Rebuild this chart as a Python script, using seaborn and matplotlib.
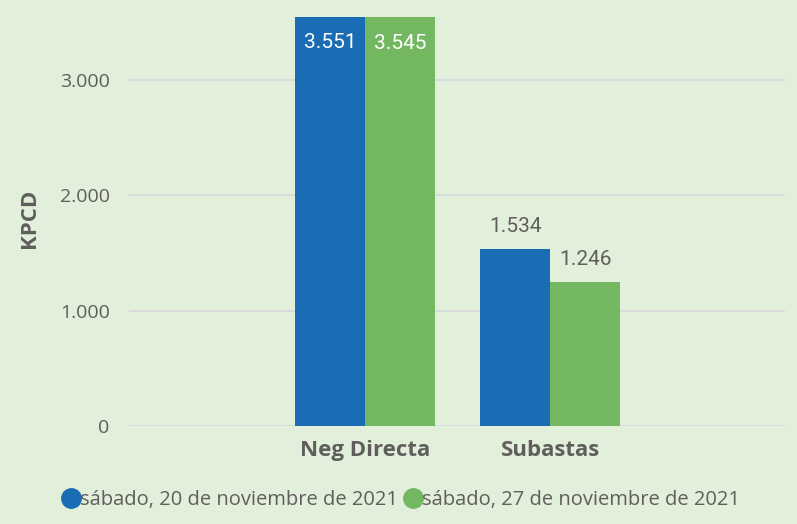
import pandas as pd
import numpy as np
import seaborn as sns
import matplotlib.pyplot as plt
from matplotlib.lines import Line2D
plt.switch_backend('agg')

categories = ['Neg Directa', 'Subastas']
series_names = ['sábado, 20 de noviembre de 2021', 'sábado, 27 de noviembre de 2021']
values_20 = [3551, 1534]
values_27 = [3545, 1246]
y_ticks = [0, 1000, 2000, 3000]

BG = '#E2EFDA'
BLUE = '#1A6CB4'
GREEN = '#74B761'
TXT = '#605E5C'


def fmt(v):
    return '{:,.0f}'.format(v).replace(',', '.')


if __name__ == "__main__":
    df = pd.DataFrame({
        'cat': categories * 2,
        'serie': [series_names[0]] * 2 + [series_names[1]] * 2,
        'val': values_20 + values_27,
    })

    sns.set_style('white')
    plt.rcParams['font.family'] = ['Open Sans', 'DejaVu Sans']

    fig = plt.figure(figsize=(7.97, 5.24), dpi=100)
    fig.patch.set_facecolor(BG)
    ax = fig.add_axes([0.162, 0.187, 0.823, 0.792])
    ax.set_facecolor(BG)

    sns.barplot(data=df, x='cat', y='val', hue='serie', order=categories,
                hue_order=series_names, palette=[BLUE, GREEN], width=0.757,
                gap=0, saturation=1, legend=False, linewidth=0, ax=ax)

    ax.set_ylim(0, 3600)
    ax.set_xlim(-1.276, 2.27)
    ax.set_yticks(y_ticks)
    ax.set_yticklabels([fmt(t) for t in y_ticks], fontsize=14, color=TXT)
    ax.yaxis.grid(True, color='#D6D6DC', linewidth=1.2)
    ax.set_axisbelow(True)
    for s in ax.spines.values():
        s.set_visible(False)
    ax.tick_params(axis='both', length=0)
    ax.tick_params(axis='y', pad=14)
    ax.tick_params(axis='x', pad=10)
    for lbl in ax.get_xticklabels():
        lbl.set_fontweight('bold')
        lbl.set_fontsize(16)
        lbl.set_color(TXT)
    ax.set_xlabel('')
    ax.set_ylabel('KPCD', fontsize=16, fontweight='bold', color=TXT, labelpad=14)

    # data labels
    for cont in ax.containers:
        for p in cont.patches:
            h = p.get_height()
            xc = p.get_x() + p.get_width() / 2
            if h > 3000:
                ax.text(xc, h - 225, fmt(h), ha='center', va='center',
                        color='white', fontsize=15, family='Roboto')
            else:
                ax.text(xc, h + 200, fmt(h), ha='center', va='center',
                        color=TXT, fontsize=15, family='Roboto')

    handles = [Line2D([0], [0], marker='o', color='none', markerfacecolor=c,
                      markeredgecolor=c, markersize=14) for c in [BLUE, GREEN]]
    fig.legend(handles, series_names, loc='center left',
               bbox_to_anchor=(0.055, 0.045), ncol=2, frameon=False,
               fontsize=14.5, labelcolor=TXT, handletextpad=0.0,
               columnspacing=0.3, handlelength=0.9)

    plt.savefig('out.png', facecolor=BG)
    plt.close()
